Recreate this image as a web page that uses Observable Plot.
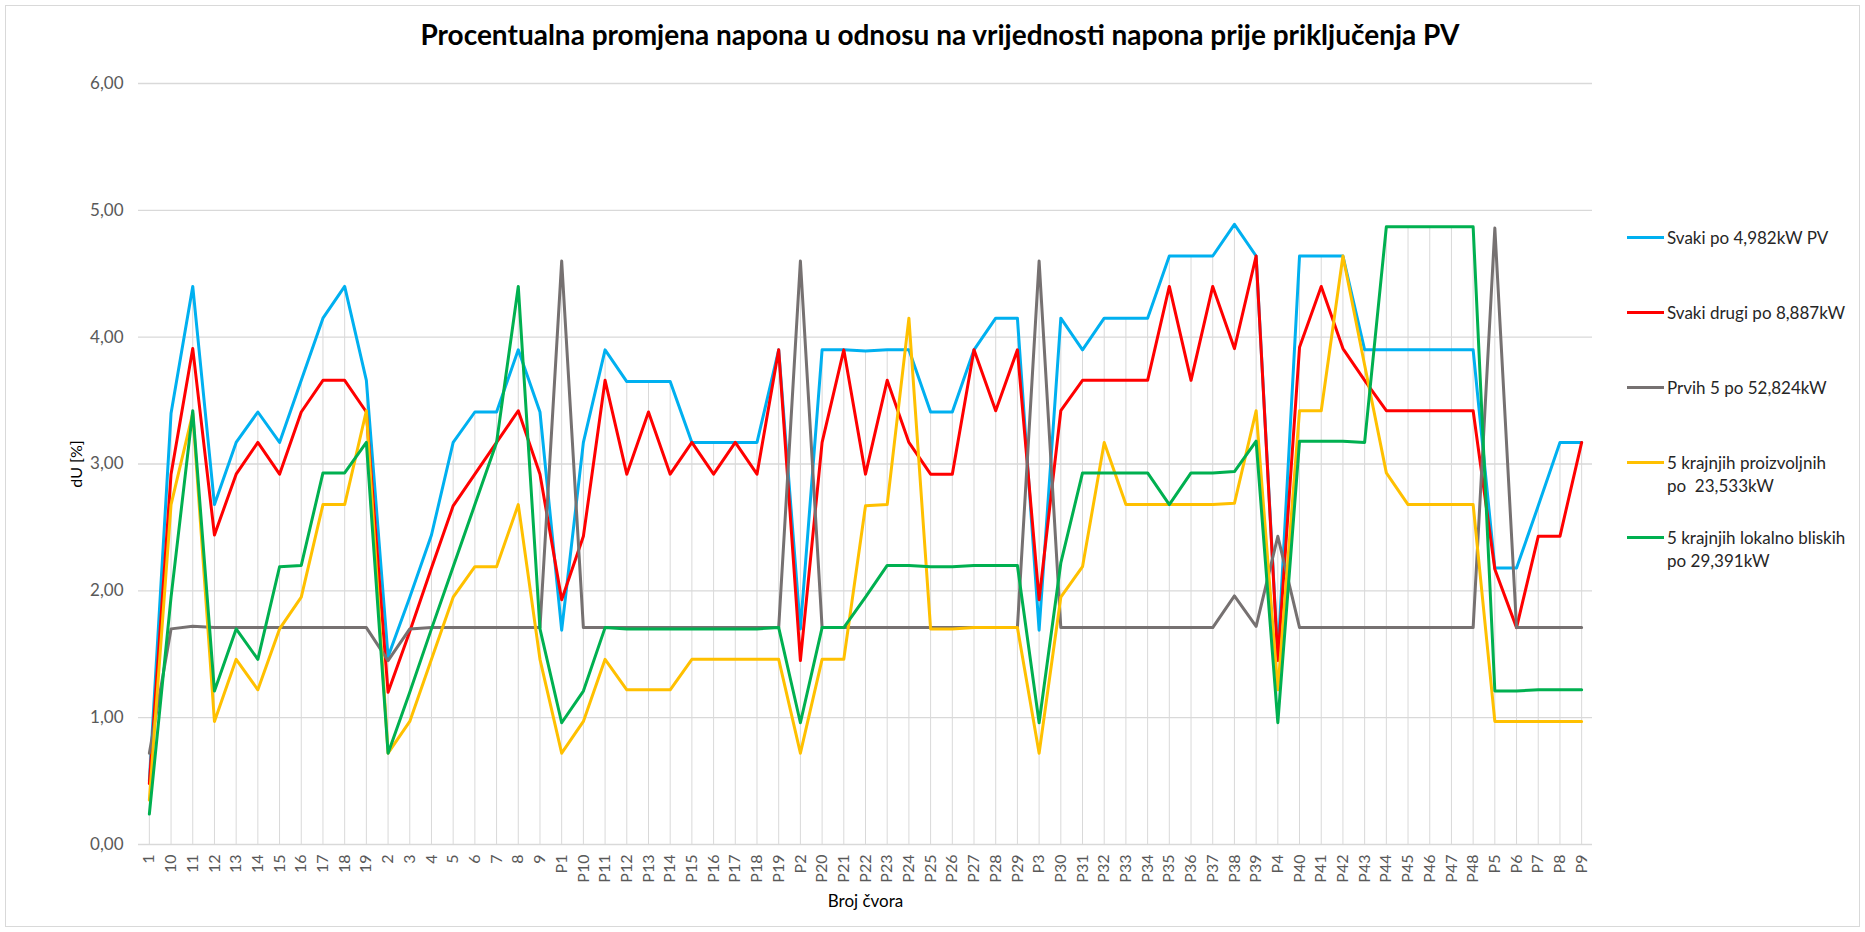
<!DOCTYPE html>
<html>
<head>
<meta charset="utf-8">
<script src="https://cdn.jsdelivr.net/npm/d3@7"></script>
<script src="https://cdn.jsdelivr.net/npm/@observablehq/plot@0.6"></script>
<style>
  body { margin: 0; background: #fff; font-family: Lato, "Open Sans", sans-serif; }
  #wrap { position: relative; width: 1865px; height: 932px; overflow: hidden; }
  #frame { position: absolute; left: 5px; top: 5px; width: 1853px; height: 920px; border: 1px solid #d9d9d9; }
  #title { position: absolute; left: 0; width: 1880px; top: 20px; text-align: center; font-weight: 700; font-size: 28px; line-height: 28px; color: #000; }
  #chart { position: absolute; left: 0; top: 0; }
  #legend { position: absolute; left: 1627px; top: 0; }
  .item { position: absolute; left: 0; width: 230px; }
  .sw { position: absolute; left: 0; top: 10px; width: 37px; height: 3px; }
  .lab { position: absolute; left: 40px; top: 0; font-size: 17px; line-height: 23px; color: #262626; white-space: nowrap; }
</style>
</head>
<body>
<div id="wrap">
  <div id="frame"></div>
  <div id="title">Procentualna promjena napona u odnosu na vrijednosti napona prije priključenja PV</div>
  <div id="chart"></div>
  <div id="legend"></div>
</div>
<script>
const nodes = ["1","10","11","12","13","14","15","16","17","18","19","2","3","4","5","6","7","8","9",
  "P1","P10","P11","P12","P13","P14","P15","P16","P17","P18","P19",
  "P2","P20","P21","P22","P23","P24","P25","P26","P27","P28","P29",
  "P3","P30","P31","P32","P33","P34","P35","P36","P37","P38","P39",
  "P4","P40","P41","P42","P43","P44","P45","P46","P47","P48",
  "P5","P6","P7","P8","P9"];

const seriesNames = [
  "Svaki po 4,982kW PV",
  "Svaki drugi po 8,887kW",
  "Prvih 5 po 52,824kW",
  "5 krajnjih proizvoljnih po  23,533kW",
  "5 krajnjih lokalno bliskih po 29,391kW"
];
const legendLines = [
  ["Svaki po 4,982kW PV"],
  ["Svaki drugi po 8,887kW"],
  ["Prvih 5 po 52,824kW"],
  ["5 krajnjih proizvoljnih", "po\u00a0 23,533kW"],
  ["5 krajnjih lokalno bliskih", "po 29,391kW"]
];
const colors = ["#00b0f0", "#ff0000", "#767171", "#ffc000", "#00b050"];

const svaki = [0.50,3.40,4.40,2.68,3.17,3.41,3.17,3.66,4.15,4.40,3.66,1.48,1.95,2.44,3.17,3.41,3.41,3.90,3.41,
  1.69,3.17,3.90,3.65,3.65,3.65,3.17,3.17,3.17,3.17,3.90,
  1.70,3.90,3.90,3.89,3.90,3.90,3.41,3.41,3.90,4.15,4.15,
  1.69,4.15,3.90,4.15,4.15,4.15,4.64,4.64,4.64,4.89,4.64,
  1.48,4.64,4.64,4.64,3.90,3.90,3.90,3.90,3.90,3.90,
  2.18,2.18,2.67,3.17,3.17];
const svakiDrugi = [0.48,2.92,3.91,2.44,2.92,3.17,2.92,3.41,3.66,3.66,3.41,1.20,1.68,2.18,2.67,2.92,3.17,3.42,2.92,
  1.93,2.43,3.66,2.92,3.41,2.92,3.17,2.92,3.17,2.92,3.90,
  1.45,3.17,3.90,2.92,3.66,3.17,2.92,2.92,3.90,3.42,3.90,
  1.93,3.42,3.66,3.66,3.66,3.66,4.40,3.66,4.40,3.91,4.64,
  1.45,3.92,4.40,3.91,3.66,3.42,3.42,3.42,3.42,3.42,
  2.17,1.71,2.43,2.43,3.17];
const prvih5 = [0.72,1.70,1.72,1.71,1.71,1.71,1.71,1.71,1.71,1.71,1.71,1.45,1.70,1.71,1.71,1.71,1.71,1.71,1.71,
  4.60,1.71,1.71,1.71,1.71,1.71,1.71,1.71,1.71,1.71,1.71,
  4.60,1.71,1.71,1.71,1.71,1.71,1.71,1.71,1.71,1.71,1.71,
  4.60,1.71,1.71,1.71,1.71,1.71,1.71,1.71,1.71,1.96,1.72,
  2.43,1.71,1.71,1.71,1.71,1.71,1.71,1.71,1.71,1.71,
  4.86,1.71,1.71,1.71,1.71];
const proizvoljnih = [0.35,2.68,3.40,0.97,1.46,1.22,1.70,1.95,2.68,2.68,3.42,0.72,0.97,1.46,1.95,2.19,2.19,2.68,1.46,
  0.72,0.97,1.46,1.22,1.22,1.22,1.46,1.46,1.46,1.46,1.46,
  0.72,1.46,1.46,2.67,2.68,4.15,1.70,1.70,1.71,1.71,1.71,
  0.72,1.95,2.19,3.17,2.68,2.68,2.68,2.68,2.68,2.69,3.42,
  1.22,3.42,3.42,4.64,3.78,2.93,2.68,2.68,2.68,2.68,
  0.97,0.97,0.97,0.97,0.97];
const bliskih = [0.24,1.95,3.42,1.21,1.70,1.46,2.19,2.20,2.93,2.93,3.17,0.72,1.20,1.70,2.19,2.68,3.17,4.40,1.70,
  0.96,1.21,1.71,1.70,1.70,1.70,1.70,1.70,1.70,1.70,1.71,
  0.96,1.71,1.71,1.95,2.20,2.20,2.19,2.19,2.20,2.20,2.20,
  0.96,2.22,2.93,2.93,2.93,2.93,2.68,2.93,2.93,2.94,3.18,
  0.96,3.18,3.18,3.18,3.17,4.87,4.87,4.87,4.87,4.87,
  1.21,1.21,1.22,1.22,1.22];

const yTicks = [0, 1, 2, 3, 4, 5, 6];

const seriesValues = [svaki, svakiDrugi, prvih5, proizvoljnih, bliskih];
const data = [];
seriesNames.forEach((name, s) => seriesValues[s].forEach((v, i) => data.push({node: nodes[i], value: v, series: name})));
const tops = nodes.map((n, i) => ({node: n, top: d3.max(seriesValues, arr => arr[i])}));

const chart = Plot.plot({
  width: 1600,
  height: 932,
  marginTop: 83,
  marginBottom: 88,
  marginLeft: 138,
  marginRight: 8,
  style: {fontFamily: "Lato, 'Open Sans', sans-serif", background: "transparent"},
  x: {type: "point", domain: nodes, padding: 0.5},
  y: {domain: [0, 6]},
  color: {domain: seriesNames, range: colors},
  marks: [
    Plot.ruleY(yTicks, {stroke: "#d9d9d9", strokeWidth: 1.3}),
    Plot.ruleX(tops, {x: "node", y1: 0, y2: "top", stroke: "#d9d9d9", strokeWidth: 1}),
    Plot.axisY({ticks: yTicks, tickSize: 0, tickPadding: 15, tickFormat: d => d.toFixed(2).replace(".", ","), fontSize: 17, color: "#595959", label: null}),
    Plot.axisX({tickSize: 0, tickRotate: -90, tickPadding: 10, fontSize: 16, color: "#595959", label: null}),
    Plot.lineY(data, {x: "node", y: "value", z: "series", stroke: "series", strokeWidth: 3, strokeLinejoin: "round", strokeLinecap: "round"}),
    Plot.text(["dU [%]"], {text: d => d, frameAnchor: "left", dx: -62, rotate: -90, textAnchor: "middle", lineAnchor: "middle", fontSize: 16, fill: "#000"}),
    Plot.text(["Broj čvora"], {text: d => d, frameAnchor: "bottom", dy: 57, textAnchor: "middle", lineAnchor: "middle", fontSize: 17, fill: "#000"})
  ]
});
document.getElementById("chart").appendChild(chart);

const legendY = [237, 312, 387, 462, 537];
const legend = document.getElementById("legend");
legendLines.forEach((lines, i) => {
  const item = document.createElement("div");
  item.className = "item";
  item.style.top = (legendY[i] - 11.5) + "px";
  const sw = document.createElement("div");
  sw.className = "sw";
  sw.style.background = colors[i];
  item.appendChild(sw);
  const lab = document.createElement("div");
  lab.className = "lab";
  lab.innerHTML = lines.join("<br>");
  item.appendChild(lab);
  legend.appendChild(item);
});
</script>
</body>
</html>
